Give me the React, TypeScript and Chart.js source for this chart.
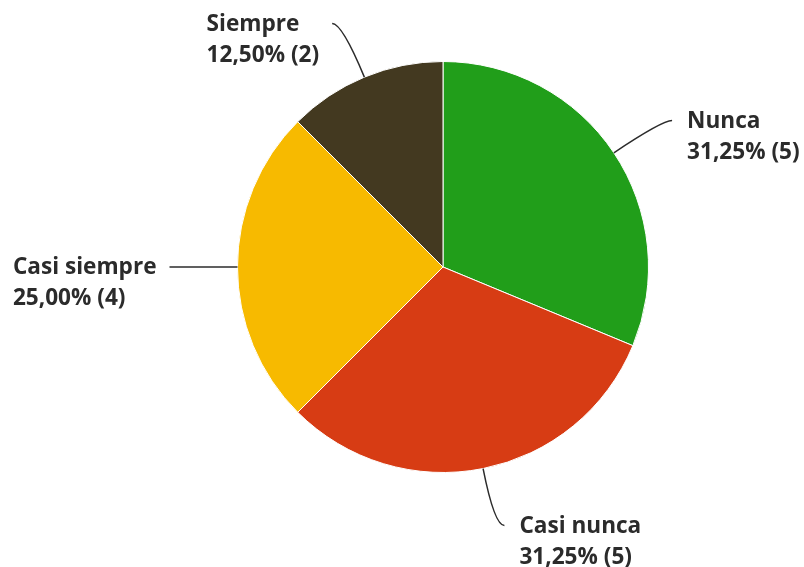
import React, { useEffect, useRef } from "react";
import { Chart, registerables } from "chart.js";

Chart.register(...registerables);

const categories = ["Nunca", "Casi nunca", "Casi siempre", "Siempre"];
const percents = [31.25, 31.25, 25.0, 12.5];
const counts = [5, 5, 4, 2];
const colors = ["#219E1A", "#D73C14", "#F7BA00", "#433920"];

const FONT = "700 22.6px 'Open Sans', sans-serif";
const LINE_H = 31;

const labelPlugin = {
  id: "leaderLabels",
  afterDraw(chart: any) {
    const ctx = chart.ctx as CanvasRenderingContext2D;
    const meta = chart.getDatasetMeta(0);
    ctx.save();
    ctx.font = FONT;
    ctx.fillStyle = "#2b2b2b";
    ctx.strokeStyle = "#2b2b2b";
    ctx.lineWidth = 1.5;
    ctx.textBaseline = "middle";
    meta.data.forEach((arc: any, i: number) => {
      const { x, y, startAngle, endAngle, outerRadius } = arc.getProps(
        ["x", "y", "startAngle", "endAngle", "outerRadius"],
        true
      );
      const mid = (startAngle + endAngle) / 2;
      const cos = Math.cos(mid);
      const sin = Math.sin(mid);
      const sx = x + cos * outerRadius;
      const sy = y + sin * outerRadius;
      const cr = outerRadius + 58;
      const cx = x + cos * cr;
      const cy = y + sin * cr;
      const right = cos >= 0;
      const ex = cx + (right ? 10 : -10);
      const ey = cy;
      ctx.beginPath();
      ctx.moveTo(sx, sy);
      ctx.quadraticCurveTo(cx, cy, ex, ey);
      ctx.stroke();

      const l1 = categories[i];
      const l2 =
        percents[i].toFixed(2).replace(".", ",") + "% (" + counts[i] + ")";
      const w = Math.max(ctx.measureText(l1).width, ctx.measureText(l2).width);
      ctx.textAlign = "left";
      const tx = right ? ex + 15 : ex - 13 - w;
      ctx.fillText(l1, tx, ey + 1);
      ctx.fillText(l2, tx, ey + 1 + LINE_H);
    });
    ctx.restore();
  },
};

export default function App() {
  const ref = useRef<HTMLCanvasElement>(null);
  useEffect(() => {
    document.body.style.margin = "0";
    const chart = new Chart(ref.current!, {
      type: "pie",
      data: {
        labels: categories,
        datasets: [
          {
            data: percents,
            backgroundColor: colors,
            borderColor: "#ffffff",
            borderWidth: 1,
          },
        ],
      },
      options: {
        animation: false,
        responsive: false,
        layout: { padding: { top: 61, bottom: 94, left: 237, right: 155 } },
        plugins: {
          legend: { display: false },
          tooltip: { enabled: false },
        },
      },
      plugins: [labelPlugin],
    });
    return () => chart.destroy();
  }, []);
  return (
    <div style={{ width: 804, height: 567 }}>
      <canvas ref={ref} width={804} height={567} />
    </div>
  );
}
